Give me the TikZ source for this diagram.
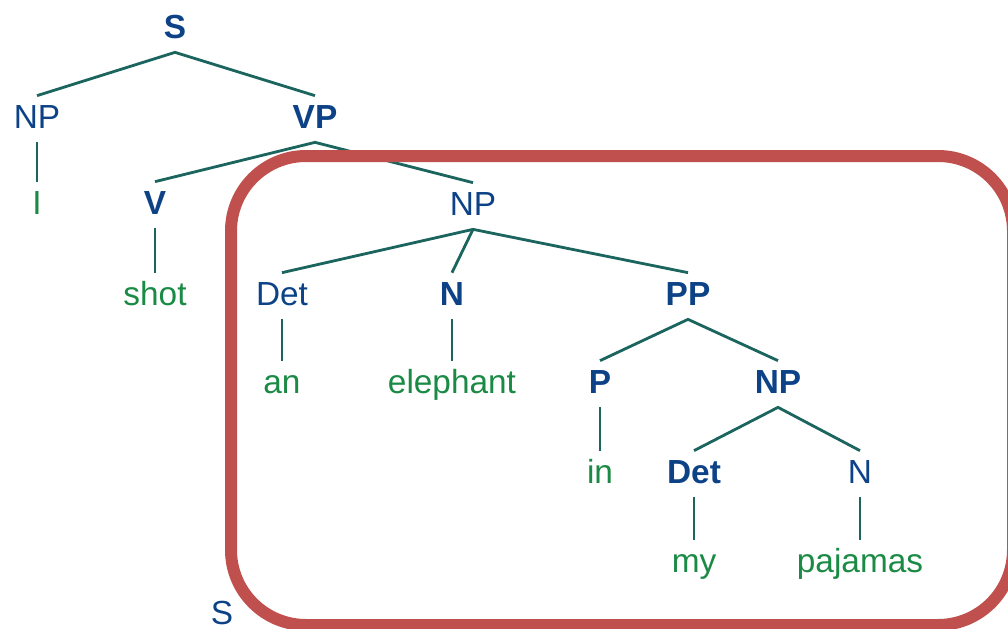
\documentclass[tikz,border=0pt]{standalone}
\usepackage{fontspec}
\setmainfont{Liberation Sans}
\definecolor{cat-blue}{HTML}{0D4287}
\definecolor{word-green}{HTML}{1A8A45}
\definecolor{branch-teal}{HTML}{1B655E}
\definecolor{box-red}{HTML}{C0504D}

\tikzset{
  cat/.style={anchor=base, text=cat-blue, font=\fontsize{19}{22}\selectfont,
    text height=0.52cm, text depth=0.16cm, inner sep=0.12cm},
  bcat/.style={cat, font=\fontsize{19}{22}\selectfont\bfseries},
  word/.style={cat, text=word-green},
  branch/.style={draw=branch-teal, line width=1.6pt},
}

\begin{document}
\begin{tikzpicture}[x=0.02cm, y=-0.02cm]
        % Picture frame
        \useasboundingbox (0, 0) rectangle (1008, 629);
        \clip (0, 0) rectangle (1008, 629);
        % Top level
        \node [bcat] (s) at (175, 38) {S};
        \node [cat] (np1) at (37, 128) {NP};
        \node [bcat] (vp) at (315, 128) {VP};
        % I
        \node [word] (i) at (37, 214) {I};
        % Verb
        \node [bcat] (v) at (155, 214) {V};
        \node [word] (shot) at (155, 305) {shot};
        % Object NP
        \node [cat] (np2) at (473, 215) {NP};
        \node [cat] (det1) at (282, 305) {Det};
        \node [bcat] (n1) at (452, 305) {N};
        \node [bcat] (pp) at (688, 305) {PP};
        \node [word] (an) at (282, 393) {an};
        \node [word] (elephant) at (452, 393) {elephant};
        % Prepositional phrase
        \node [bcat] (p) at (600, 393) {P};
        \node [bcat] (np3) at (778, 393) {NP};
        \node [word] (in) at (600, 483) {in};
        \node [bcat] (det2) at (694, 483) {Det};
        \node [cat] (n2) at (860, 483) {N};
        \node [word] (my) at (694, 572) {my};
        \node [word] (pajamas) at (860, 572) {pajamas};
        % Stray S label
        \node [cat] (s2) at (222, 624) {S};
        % Branches
        \draw [branch] (np1.north) -- (s.south) -- (vp.north);
        \draw [branch] (np1.south) -- (i.north);
        \draw [branch] (v.north) -- (vp.south) -- (np2.north);
        \draw [branch] (v.south) -- (shot.north);
        \draw [branch] (det1.north) -- (np2.south) -- (pp.north);
        \draw [branch] (np2.south) -- (n1.north);
        \draw [branch] (det1.south) -- (an.north);
        \draw [branch] (n1.south) -- (elephant.north);
        \draw [branch] (p.north) -- (pp.south) -- (np3.north);
        \draw [branch] (p.south) -- (in.north);
        \draw [branch] (det2.north) -- (np3.south) -- (n2.north);
        \draw [branch] (det2.south) -- (my.north);
        \draw [branch] (n2.south) -- (pajamas.north);
        % Red box round the object NP
        \draw [box-red, line width=0.24cm, rounded corners=1.5cm] (231, 156) rectangle (1013, 625);
\end{tikzpicture}
\end{document}
